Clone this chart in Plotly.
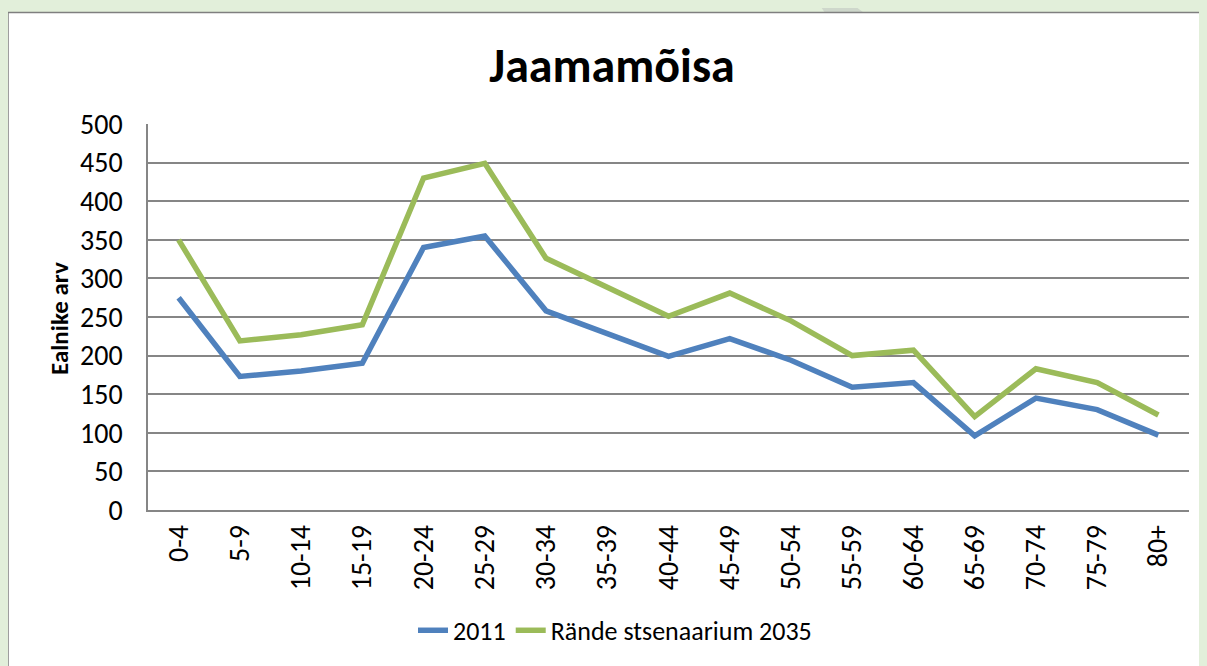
import plotly.graph_objects as go

categories = ["0-4", "5-9", "10-14", "15-19", "20-24", "25-29", "30-34", "35-39",
              "40-44", "45-49", "50-54", "55-59", "60-64", "65-69", "70-74", "75-79", "80+"]
values_2011 = [275, 173, 180, 190, 340, 355, 258, 229, 199, 222, 194, 159, 165, 96, 145, 130, 97]
values_2035 = [350, 219, 227, 240, 430, 449, 326, 288, 251, 281, 245, 200, 207, 121, 183, 165, 123]
series_names = ["2011", "Rände stsenaarium 2035"]
y_ticks = [0, 50, 100, 150, 200, 250, 300, 350, 400, 450, 500]

# the page body adds an 8px margin, so the figure starts at page (8, 8)
OFF = 8
W, H = 1207 - OFF, 666 - OFF
L, R, T, B = 148 - OFF, 1207 - 1189, 124 - OFF, 666 - 512
PW, PH = W - L - R, H - T - B


def px(x):  # page x -> paper x
    return (x - OFF - L) / PW


def py(y):  # page y -> paper y
    return (H - B - (y - OFF)) / PH


FONT = "Carlito, Calibri, Lato, sans-serif"
GRID = "#868686"
GREEN_BG = "#E2EFDA"

fig = go.Figure()
fig.add_trace(go.Scatter(x=categories, y=values_2011, name=series_names[0], mode="lines",
                         line=dict(color="#4F81BD", width=5.5)))
fig.add_trace(go.Scatter(x=categories, y=values_2035, name=series_names[1], mode="lines",
                         line=dict(color="#9BBB59", width=5.5)))

shapes = [
    dict(type="path", xref="paper", yref="paper", layer="below",
         path=f"M {px(817)} {py(0)} L {px(848)} {py(0)} L {px(866)} {py(14)} L {px(826)} {py(14)} Z",
         fillcolor="#CED7CB", line=dict(width=0)),
    dict(type="rect", xref="paper", yref="paper", layer="below",
         x0=px(8), x1=px(1215), y0=py(12), y1=py(680),
         fillcolor="white", line=dict(color="#7F7F7F", width=1.5)),
]

annotations = [
    dict(text="<b>Ealnike arv</b>", xref="paper", yref="paper", x=px(60), y=py(320),
         xanchor="center", yanchor="middle", textangle=-90, showarrow=False,
         font=dict(size=25, family=FONT, color="black")),
]

fig.update_layout(
    width=W, height=H,
    margin=dict(l=L, r=R, t=T, b=B),
    paper_bgcolor=GREEN_BG,
    plot_bgcolor="white",
    font=dict(family=FONT, color="black"),
    shapes=shapes,
    annotations=annotations,
    title=dict(text="<b>Jaamamõisa</b>", x=(612 - OFF) / W, xanchor="center", xref="container",
               y=1 - (65 - OFF) / H, yanchor="middle", yref="container",
               font=dict(size=48, family=FONT, color="black")),
    showlegend=True,
    legend=dict(orientation="h", x=px(615), xanchor="center", y=py(633), yanchor="middle",
                font=dict(size=26, family=FONT), bgcolor="rgba(0,0,0,0)"),
    xaxis=dict(type="category", range=[-0.5, len(categories) - 0.5], showgrid=False,
               showline=True, linecolor=GRID, linewidth=1.5, ticks="", tickangle=-90,
               tickfont=dict(size=28, family=FONT), ticklabelstandoff=2,
               fixedrange=True),
    yaxis=dict(range=[0, 500], tickvals=y_ticks, showgrid=True, gridcolor=GRID, gridwidth=1.5,
               showline=True, linecolor=GRID, linewidth=1.5, zeroline=False, ticks="",
               tickfont=dict(size=28, family=FONT), ticklabelstandoff=18,
               fixedrange=True),
)

fig.write_html("out.html",
               post_script=f"document.body.style.backgroundColor='{GREEN_BG}';")
